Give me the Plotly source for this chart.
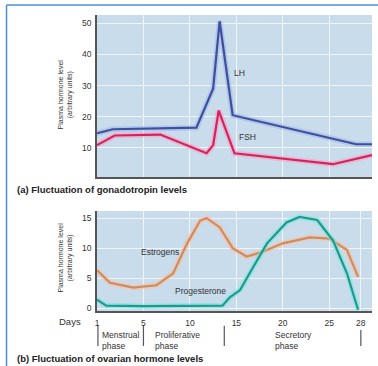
import plotly.graph_objects as go

# ---- data ----
lh_days = [0, 1.7, 10.7, 12.5, 13.2, 14.6, 27.9, 29.6]
lh_vals = [14.7, 16.0, 16.5, 29.0, 50.6, 20.5, 11.2, 11.2]

fsh_days = [0, 1.9, 6.8, 11.8, 12.5, 13.1, 14.8, 25.4, 29.6]
fsh_vals = [10.9, 14.0, 14.3, 8.3, 10.9, 22.0, 8.3, 4.8, 7.7]

est_days = [0, 1.4, 3.9, 6.4, 8.2, 9.7, 11.1, 11.8, 13.2, 14.6, 16.1, 17.5, 20.0, 22.9, 25.0, 26.9, 28.1]
est_vals = [6.3, 4.2, 3.4, 3.8, 5.8, 10.8, 14.6, 15.0, 13.5, 10.0, 8.6, 9.2, 10.8, 11.8, 11.6, 9.7, 5.2]

prog_days = [0, 1.0, 5.0, 10.0, 13.5, 14.3, 15.4, 16.8, 18.3, 20.4, 21.8, 23.7, 25.4, 26.9, 28.1]
prog_vals = [1.4, 0.4, 0.3, 0.3, 0.4, 1.8, 3.0, 6.8, 10.8, 14.3, 15.2, 14.7, 11.3, 5.8, -0.3]

day_tickvals = [0, 5, 10, 15, 20, 25, 28.4]
day_ticktext = ["1", "5", "10", "15", "20", "25", "28"]
top_ticks = [10, 20, 30, 40, 50]
bot_ticks = [0, 5, 10, 15]

phase_bounds = [0.1, 5.0, 13.7, 28.4]
phase_names = ["Menstrual<br>phase", "Proliferative<br>phase", "Secretory<br>phase"]
phase_label_x = [0.35, 6.0, 18.9]

FONT = "Liberation Sans, Arial, sans-serif"
TXT = "#333333"
BG = "#c8dceb"

fig = go.Figure()

def add_line(x, y, color, glow, xa, ya):
    fig.add_trace(go.Scatter(x=x, y=y, mode="lines", line=dict(color=glow, width=5.5),
                             xaxis=xa, yaxis=ya, hoverinfo="skip", showlegend=False))
    fig.add_trace(go.Scatter(x=x, y=y, mode="lines", line=dict(color=color, width=2.2),
                             xaxis=xa, yaxis=ya, showlegend=False))

add_line(lh_days, lh_vals, "#3d4f9e", "rgba(150,170,230,0.45)", "x", "y")
add_line(fsh_days, fsh_vals, "#d4235e", "rgba(255,150,190,0.5)", "x", "y")
add_line(est_days, est_vals, "#cf8c5c", "rgba(255,190,160,0.55)", "x2", "y2")
add_line(prog_days, prog_vals, "#1e9a88", "rgba(120,230,230,0.55)", "x2", "y2")

axis_common = dict(showline=True, linecolor="#555555", linewidth=1.5, zeroline=False,
                   gridcolor="rgba(255,255,255,0.7)", gridwidth=1,
                   tickfont=dict(family=FONT, size=8.5, color=TXT))

fig.update_layout(
    width=378, height=366,
    margin=dict(l=97, r=6, t=15, b=55),
    paper_bgcolor="white", plot_bgcolor=BG,
    showlegend=False,
    xaxis=dict(domain=[0, 1], range=[0, 29.6], anchor="y", tickvals=[5, 10, 15, 20, 25],
               showticklabels=False, ticks="", **axis_common),
    yaxis=dict(domain=[0.4527, 1], range=[0.7, 52.6], anchor="x", tickvals=top_ticks,
               ticks="", ticklabelstandoff=2, **axis_common),
    xaxis2=dict(domain=[0, 1], range=[0, 29.6], anchor="y2", tickvals=day_tickvals,
                ticktext=day_ticktext, ticks="", ticklabelstandoff=3, **axis_common),
    yaxis2=dict(domain=[0, 0.3378], range=[-0.5, 16.2], anchor="x2", tickvals=bot_ticks,
                ticks="", ticklabelstandoff=2, **axis_common),
)

def txt(size):
    return dict(family=FONT, size=size, color=TXT)

ann = []
# curve labels
ann.append(dict(x=14.5, y=34, xref="x", yref="y", text="LH", showarrow=False, xanchor="left", font=txt(8.5)))
ann.append(dict(x=15.1, y=13.5, xref="x", yref="y", text="FSH", showarrow=False, xanchor="left", font=txt(8.5)))
ann.append(dict(x=4.5, y=9.4, xref="x2", yref="y2", text="Estrogens", showarrow=False, xanchor="left", font=txt(8.5)))
ann.append(dict(x=8.2, y=2.8, xref="x2", yref="y2", text="Progesterone", showarrow=False, xanchor="left", font=txt(8.5)))
# y titles
for yc in [0.733, 0.182]:
    ann.append(dict(x=-0.115, y=yc, xref="paper", yref="paper",
                    text="Plasma hormone level<br>(arbitrary units)", showarrow=False,
                    xanchor="center", yanchor="middle",
                    textangle=-90, font=txt(7)))
# Days label
ann.append(dict(x=-0.051, y=-0.034, xref="paper", yref="paper", text="Days", showarrow=False,
                xanchor="right", yanchor="middle", font=txt(9.5)))
# phase labels
for px, name in zip(phase_label_x, phase_names):
    ann.append(dict(x=px, y=-0.099, xref="x2", yref="paper", text=name, showarrow=False,
                    xanchor="left", yanchor="middle", align="left", font=txt(8.5)))
# panel titles
ann.append(dict(x=-0.298, y=0.412, xref="paper", yref="paper",
                text="<b>(a) Fluctuation of gonadotropin levels</b>", showarrow=False,
                xanchor="left", yanchor="middle", font=dict(family=FONT, size=9.5, color="#222222")))
ann.append(dict(x=-0.298, y=-0.162, xref="paper", yref="paper",
                text="<b>(b) Fluctuation of ovarian hormone levels</b>", showarrow=False,
                xanchor="left", yanchor="middle", font=dict(family=FONT, size=9.5, color="#222222")))
fig.update_layout(annotations=ann)

shapes = []
for i, b in enumerate(phase_bounds):
    top = -0.05 if i < 3 else -0.064
    shapes.append(dict(type="line", xref="x2", yref="paper", x0=b, x1=b, y0=top, y1=-0.118,
                       line=dict(color="#555555", width=1.2)))
# frame border (blue) at top and left
shapes.append(dict(type="line", xref="paper", yref="paper", x0=-0.329, x1=1.03, y0=1.034, y1=1.034,
                   line=dict(color="#4a90d9", width=1.5)))
shapes.append(dict(type="line", xref="paper", yref="paper", x0=-0.329, x1=-0.329, y0=1.034, y1=-0.2,
                   line=dict(color="#4a90d9", width=1.5)))
fig.update_layout(shapes=shapes)

fig.write_html("out.html", config={"displayModeBar": False},
               post_script="document.body.style.margin='0';document.body.style.overflow='hidden';")
